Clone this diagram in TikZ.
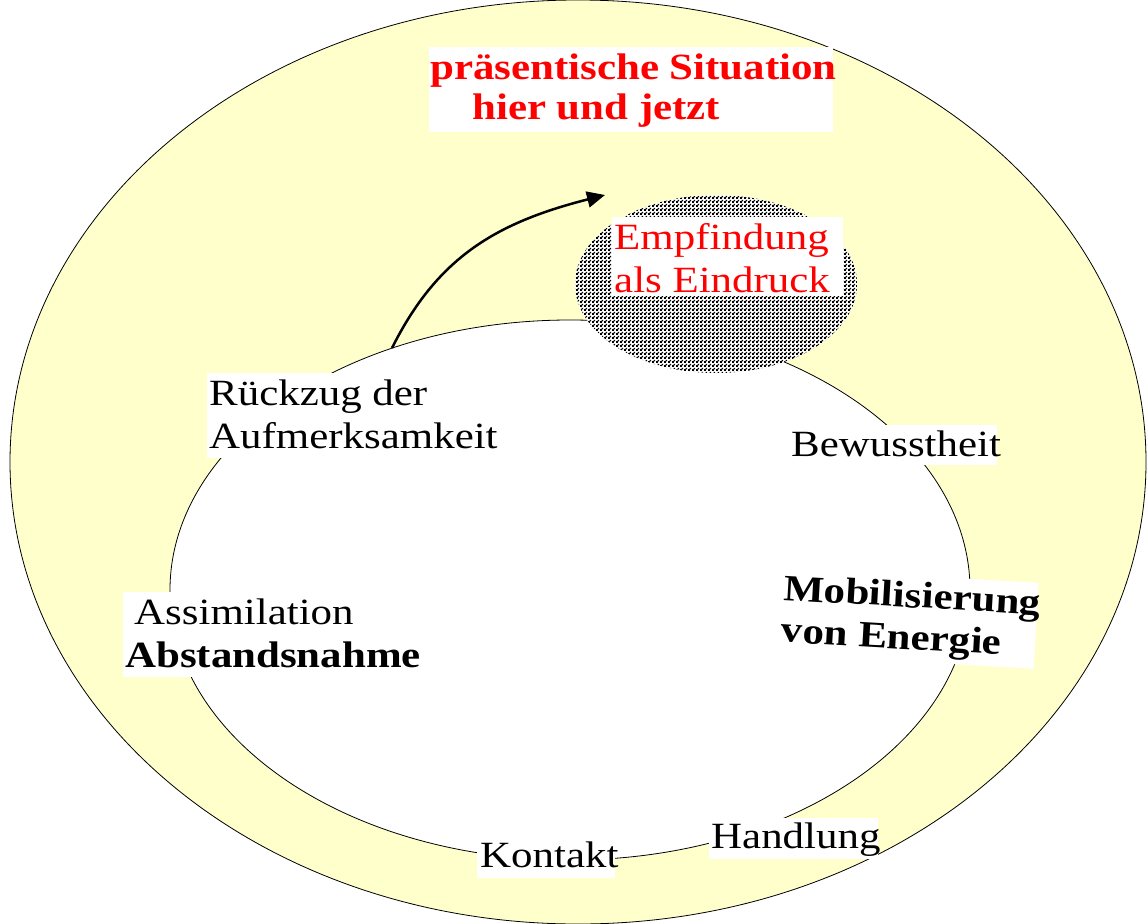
\documentclass[tikz,border=0pt]{standalone}
\usepackage{fontspec}
\setmainfont{Liberation Serif}[FakeStretch=1.16]
\usetikzlibrary{arrows.meta,patterns.meta}
\definecolor{paleyellow}{RGB}{255,255,204}
\definecolor{labelred}{RGB}{255,0,0}
\tikzdeclarepattern{
  name=dotgrid,
  type=uncolored,
  bottom left={(0pt,0pt)},
  top right={(4pt,4pt)},
  tile size={(4pt,4pt)},
  code={
    \fill (0pt,0pt) rectangle (2.2pt,2.2pt);
    \fill (2pt,2pt) rectangle (4pt,4pt);
  }
}
\begin{document}
\begin{tikzpicture}[x=1pt,y=-1pt,
  ring/.style={draw=black,line width=0.8pt},
  lbl/.style={anchor=base west,inner sep=0pt,font=\fontsize{37}{42}\selectfont},
  lblbf/.style={anchor=base west,inner sep=0pt,font=\fontsize{37}{42}\selectfont\bfseries},
  redtext/.style={text=labelred},
  backdrop/.style={fill=white,draw=none,inner sep=0pt,anchor=north west},
  cyclearrow/.style={-{Triangle[length=18pt,width=16pt]},line width=2.5pt}]
\useasboundingbox (0,0) rectangle (1147,923);
\fill[white] (0,0) rectangle (1147,923);
% situation ring
\draw[ring,fill=paleyellow] (578,462) ellipse [x radius=568pt, y radius=462pt];
% inner cycle
\draw[ring,fill=white] (570,590) ellipse [x radius=400pt, y radius=270pt];
% sensation area
\fill[white] (716,284) ellipse [x radius=141pt, y radius=89pt];
\fill[pattern=dotgrid,pattern color=black] (716,284) ellipse [x radius=141pt, y radius=89pt];
% arrow
\coordinate (arrowstart) at (392,348);
\coordinate (arrowend) at (605,195);
\draw[cyclearrow] (arrowstart) .. controls (437,258) and (495,223) .. (arrowend);
% title
\node[backdrop,minimum width=404pt,minimum height=85pt] (titlebg) at (429,47) {};
\node[lblbf,redtext] (title1) at (430,80) {präsentische Situation};
\node[lblbf,redtext] (title2) at (472,120) {hier und jetzt};
% Empfindung
\node[backdrop,minimum width=231pt,minimum height=79pt] (empfbg) at (612,217) {};
\node[lbl,redtext] (empf1) at (614,249) {Empfindung};
\node[lbl,redtext] (empf2) at (614,292) {als Eindruck};
% Rueckzug
\node[backdrop,minimum width=289pt,minimum height=85pt] (rueckbg) at (207,373) {};
\node[lbl] (rueck1) at (209,405) {Rückzug der};
\node[lbl] (rueck2) at (209,448) {Aufmerksamkeit};
% Bewusstheit
\node[backdrop,minimum width=210pt,minimum height=40pt] (bewbg) at (787,425) {};
\node[lbl] (bew) at (791,456) {Bewusstheit};
% Mobilisierung
\begin{scope}[rotate around={-3.3:(783,600)}]
\node[backdrop,minimum width=258pt,minimum height=86pt,transform shape] (mobbg) at (779,568) {};
\node[lblbf,transform shape] (mob1) at (783,600) {Mobilisierung};
\node[lblbf,transform shape] (mob2) at (783,642) {von Energie};
\end{scope}
% Assimilation
\node[backdrop,minimum width=297pt,minimum height=85pt] (assimbg) at (123,592) {};
\node[lbl] (assim1) at (134,624) {Assimilation};
\node[lblbf] (assim2) at (125,667) {Abstandsnahme};
% Kontakt
\node[backdrop,minimum width=138pt,minimum height=40pt] (kontaktbg) at (477,838) {};
\node[lbl] (kontakt) at (480,867) {Kontakt};
% Handlung
\node[backdrop,minimum width=169pt,minimum height=41pt] (handbg) at (709,818) {};
\node[lbl] (handlung) at (711,848) {Handlung};
\end{tikzpicture}
\end{document}
